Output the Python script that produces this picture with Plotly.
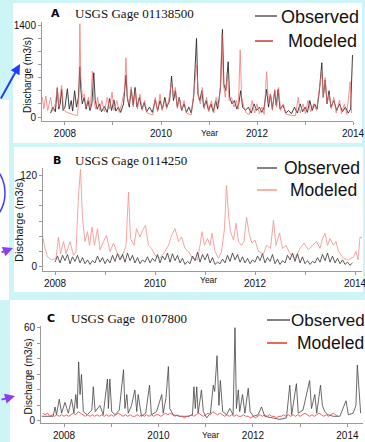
import plotly.graph_objects as go

W, H = 365, 442


def X(px):
    return px / W


def Y(py):
    return 1 - py / H


# ---------------- data (decimal year, discharge m3/s) ----------------
obs_A = [(2007.70, 60), (2007.75, 150), (2007.80, 80), (2007.84, 440), (2007.87, 120), (2007.90, 200),
         (2007.93, 420), (2007.96, 100), (2008.00, 150), (2008.05, 430), (2008.09, 120), (2008.13, 250),
         (2008.16, 90), (2008.20, 400), (2008.24, 150), (2008.28, 300), (2008.31, 765), (2008.33, 420),
         (2008.36, 200), (2008.40, 300), (2008.44, 120), (2008.48, 250), (2008.52, 100), (2008.56, 200),
         (2008.60, 674), (2008.63, 250), (2008.67, 120), (2008.72, 200), (2008.76, 80), (2008.82, 160),
         (2008.88, 70), (2008.93, 280), (2008.97, 100), (2009.02, 260), (2009.06, 90), (2009.11, 150),
         (2009.16, 70), (2009.22, 200), (2009.27, 638), (2009.30, 280), (2009.34, 150), (2009.38, 420),
         (2009.42, 180), (2009.46, 450), (2009.50, 150), (2009.55, 300), (2009.60, 120), (2009.65, 220),
         (2009.70, 80), (2009.76, 150), (2009.82, 70), (2009.88, 260), (2009.93, 100), (2009.98, 250),
         (2010.03, 120), (2010.08, 300), (2010.12, 150), (2010.18, 250), (2010.22, 623), (2010.26, 250),
         (2010.30, 400), (2010.34, 150), (2010.38, 300), (2010.43, 100), (2010.48, 200), (2010.53, 70),
         (2010.58, 150), (2010.63, 60), (2010.68, 300), (2010.74, 1196), (2010.77, 350), (2010.81, 250),
         (2010.85, 400), (2010.89, 150), (2010.94, 250), (2010.99, 100), (2011.04, 200), (2011.09, 80),
         (2011.14, 250), (2011.18, 120), (2011.24, 450), (2011.28, 1333), (2011.31, 500), (2011.35, 400),
         (2011.40, 841), (2011.43, 300), (2011.48, 200), (2011.53, 250), (2011.58, 120), (2011.62, 200),
         (2011.66, 400), (2011.70, 150), (2011.76, 100), (2011.82, 150), (2011.88, 60), (2011.94, 200),
         (2011.99, 100), (2012.05, 150), (2012.10, 70), (2012.15, 150), (2012.20, 420), (2012.24, 150),
         (2012.28, 350), (2012.32, 120), (2012.37, 400), (2012.40, 180), (2012.44, 420), (2012.48, 120),
         (2012.54, 180), (2012.60, 60), (2012.66, 100), (2012.72, 50), (2012.78, 150), (2012.84, 60),
         (2012.90, 200), (2012.95, 80), (2013.00, 150), (2013.05, 70), (2013.10, 250), (2013.15, 100),
         (2013.20, 200), (2013.25, 120), (2013.30, 400), (2013.35, 826), (2013.38, 300), (2013.42, 563),
         (2013.46, 200), (2013.50, 400), (2013.54, 150), (2013.60, 250), (2013.66, 100), (2013.72, 200),
         (2013.78, 80), (2013.84, 150), (2013.90, 60), (2013.95, 120), (2013.99, 943)]

mod_A = [(2007.53, 300), (2007.56, 120), (2007.60, 320), (2007.64, 100), (2007.70, 300), (2007.74, 90),
         (2007.80, 200), (2007.84, 460), (2007.87, 150), (2007.93, 480), (2007.97, 110), (2008.02, 80),
         (2008.08, 60), (2008.14, 40), (2008.20, 30), (2008.26, 25), (2008.29, 300), (2008.31, 1420),
         (2008.33, 600), (2008.36, 300), (2008.40, 350), (2008.44, 150), (2008.49, 300), (2008.53, 130),
         (2008.57, 700), (2008.60, 250), (2008.64, 120), (2008.68, 300), (2008.72, 100), (2008.77, 250),
         (2008.82, 80), (2008.88, 300), (2008.93, 120), (2008.98, 380), (2009.02, 100), (2009.08, 250),
         (2009.13, 70), (2009.18, 200), (2009.24, 400), (2009.27, 902), (2009.30, 300), (2009.34, 200),
         (2009.38, 460), (2009.42, 150), (2009.47, 400), (2009.51, 120), (2009.56, 350), (2009.61, 100),
         (2009.66, 250), (2009.71, 60), (2009.77, 40), (2009.83, 30), (2009.88, 300), (2009.93, 80),
         (2009.98, 350), (2010.02, 100), (2010.07, 250), (2010.12, 120), (2010.17, 300), (2010.22, 537),
         (2010.26, 300), (2010.30, 450), (2010.34, 130), (2010.38, 300), (2010.43, 90), (2010.48, 250),
         (2010.53, 60), (2010.58, 40), (2010.63, 30), (2010.68, 350), (2010.74, 791), (2010.78, 300),
         (2010.82, 200), (2010.86, 450), (2010.90, 120), (2010.95, 300), (2011.00, 80), (2011.05, 250),
         (2011.10, 60), (2011.15, 300), (2011.20, 150), (2011.24, 500), (2011.27, 1272), (2011.30, 500),
         (2011.34, 300), (2011.38, 664), (2011.42, 250), (2011.47, 300), (2011.52, 150), (2011.57, 250),
         (2011.61, 120), (2011.65, 1019), (2011.68, 300), (2011.73, 150), (2011.78, 60), (2011.84, 40),
         (2011.90, 250), (2011.95, 60), (2012.00, 200), (2012.05, 50), (2012.10, 150), (2012.15, 40),
         (2012.20, 689), (2012.24, 200), (2012.28, 350), (2012.32, 100), (2012.37, 420), (2012.41, 150),
         (2012.45, 450), (2012.49, 100), (2012.55, 200), (2012.60, 40), (2012.66, 30), (2012.72, 25),
         (2012.80, 20), (2012.86, 300), (2012.90, 60), (2012.96, 200), (2013.01, 50), (2013.06, 250),
         (2013.12, 80), (2013.18, 200), (2013.24, 100), (2013.30, 450), (2013.35, 715), (2013.38, 300),
         (2013.42, 600), (2013.46, 200), (2013.50, 350), (2013.55, 120), (2013.60, 300), (2013.65, 60),
         (2013.72, 258), (2013.76, 50), (2013.82, 200), (2013.87, 40), (2013.94, 537), (2013.97, 60)]

# Panel B observed: sampled every 0.05 yr starting 2008.00
obs_B_start = 2008.00
obs_B = [6, 14, 5, 15, 8, 16, 4, 13, 7, 15, 5, 12, 4, 9, 3, 8, 5, 14, 6, 12,
         4, 10, 5, 15, 7, 17, 9, 16, 6, 18, 8, 15, 5, 12, 4, 9, 6, 13, 5, 11,
         7, 16, 5, 14, 9, 18, 6, 17, 8, 15, 5, 11, 3, 7, 4, 14, 8, 19, 6, 16,
         9, 17, 5, 12, 3, 6, 4, 10, 5, 15, 7, 18, 9, 16, 6, 13, 5, 11, 4, 9,
         6, 14, 8, 17, 5, 12, 7, 16, 4, 10, 3, 8, 5, 15, 9, 18, 7, 17, 5, 13,
         4, 8, 3, 7, 5, 12, 6, 16, 8, 18, 6, 14, 5, 11, 4, 9, 3, 6, 2, 5]

mod_B = [(2007.75, 41), (2007.80, 24), (2007.85, 13), (2007.93, 9), (2008.02, 11), (2008.07, 39),
         (2008.11, 17), (2008.17, 33), (2008.22, 17), (2008.30, 33), (2008.37, 15), (2008.42, 20),
         (2008.47, 94), (2008.51, 128), (2008.55, 63), (2008.60, 33), (2008.65, 46), (2008.69, 28),
         (2008.74, 52), (2008.79, 28), (2008.85, 50), (2008.90, 22), (2008.97, 33), (2009.03, 41),
         (2009.10, 20), (2009.17, 31), (2009.25, 17), (2009.33, 11), (2009.42, 28), (2009.47, 98),
         (2009.51, 37), (2009.58, 28), (2009.63, 50), (2009.70, 39), (2009.75, 48), (2009.81, 54),
         (2009.87, 28), (2009.93, 24), (2010.00, 15), (2010.10, 11), (2010.20, 20), (2010.27, 28),
         (2010.33, 41), (2010.40, 50), (2010.47, 33), (2010.53, 39), (2010.60, 24), (2010.67, 20),
         (2010.75, 11), (2010.85, 9), (2010.90, 28), (2010.94, 46), (2010.99, 28), (2011.05, 37),
         (2011.10, 28), (2011.14, 44), (2011.20, 20), (2011.27, 11), (2011.33, 20), (2011.39, 50),
         (2011.43, 107), (2011.47, 68), (2011.51, 46), (2011.57, 35), (2011.62, 57), (2011.67, 33),
         (2011.73, 28), (2011.78, 33), (2011.83, 65), (2011.89, 41), (2011.94, 31), (2012.00, 35),
         (2012.07, 20), (2012.17, 17), (2012.23, 28), (2012.31, 24), (2012.37, 61), (2012.42, 28),
         (2012.49, 44), (2012.55, 24), (2012.62, 28), (2012.70, 17), (2012.80, 11), (2012.90, 24),
         (2012.98, 31), (2013.07, 22), (2013.15, 28), (2013.23, 33), (2013.30, 24), (2013.35, 37),
         (2013.40, 44), (2013.45, 28), (2013.50, 37), (2013.57, 28), (2013.62, 33), (2013.67, 20),
         (2013.77, 11), (2013.87, 9), (2013.97, 13), (2014.02, 20), (2014.06, 9), (2014.10, 39),
         (2014.14, 38)]

obs_C = [(2007.53, 3), (2007.67, 3), (2007.77, 3), (2007.81, 9), (2007.84, 4), (2007.90, 14),
         (2007.95, 5), (2008.02, 12), (2008.09, 5), (2008.16, 14), (2008.21, 5), (2008.25, 17),
         (2008.28, 8), (2008.31, 38), (2008.34, 17), (2008.37, 30), (2008.41, 6), (2008.49, 4),
         (2008.59, 7), (2008.62, 22), (2008.66, 6), (2008.76, 10), (2008.83, 4), (2008.92, 27),
         (2008.94, 8), (2008.97, 27), (2009.01, 6), (2009.08, 4), (2009.17, 7), (2009.26, 33),
         (2009.29, 8), (2009.33, 17), (2009.36, 5), (2009.43, 10), (2009.50, 20), (2009.54, 6),
         (2009.57, 17), (2009.64, 3), (2009.73, 5), (2009.81, 23), (2009.85, 4), (2009.96, 6),
         (2010.07, 17), (2010.10, 5), (2010.16, 15), (2010.21, 35), (2010.24, 8), (2010.31, 4),
         (2010.45, 3), (2010.63, 3), (2010.72, 4), (2010.75, 22), (2010.78, 8), (2010.81, 22),
         (2010.84, 5), (2010.91, 20), (2010.95, 6), (2011.02, 2), (2011.10, 5), (2011.16, 23),
         (2011.19, 19), (2011.24, 42), (2011.28, 10), (2011.31, 26), (2011.36, 6), (2011.44, 4),
         (2011.51, 8), (2011.58, 4), (2011.62, 60), (2011.65, 8), (2011.69, 20), (2011.72, 6),
         (2011.78, 17), (2011.83, 5), (2011.90, 21), (2011.94, 6), (2012.01, 3), (2012.11, 4),
         (2012.18, 9), (2012.25, 3), (2012.39, 2), (2012.57, 1), (2012.71, 2), (2012.78, 23),
         (2012.82, 4), (2012.92, 24), (2012.96, 5), (2013.06, 7), (2013.20, 26), (2013.24, 8),
         (2013.31, 17), (2013.35, 5), (2013.43, 23), (2013.47, 10), (2013.52, 6), (2013.59, 4),
         (2013.70, 3), (2013.84, 3), (2013.97, 13), (2014.02, 4), (2014.12, 5), (2014.18, 10),
         (2014.21, 36), (2014.24, 25), (2014.28, 5)]

# Panel C modeled: sampled every 0.05 yr starting 2007.55
mod_C_start = 2007.55
mod_C = [5, 4, 5, 3, 4, 3, 4, 3, 4,
         3, 4, 3, 4, 5, 4, 6, 5, 4, 3, 4, 3, 4, 3, 4, 3, 4, 3, 4, 3,
         4, 3, 4, 5, 4, 3, 4, 3, 4, 3, 3, 4, 3, 4, 3, 4, 3, 4, 3, 4,
         4, 3, 4, 5, 4, 5, 4, 3, 4, 3, 3, 2, 3, 3, 4, 3, 4, 5, 4, 3,
         4, 5, 4, 6, 5, 4, 5, 4, 3, 4, 3, 4, 3, 4, 3, 3, 4, 3, 3, 2,
         3, 2, 3, 4, 3, 4, 3, 4, 3, 3, 2, 3, 3, 4, 3, 4, 3, 4, 3, 4,
         3, 4, 5, 4, 3, 4, 3, 4, 5, 4, 3, 4, 3, 4, 5, 4, 3]

years = [2008, 2009, 2010, 2011, 2012, 2013, 2014]
year_labels = ["2008", "", "2010", "", "2012", "", "2014"]
titles = ["USGS Gage 01138500", "USGS Gage 0114250", "USGS Gage\u00a0\u00a00107800"]
panel_letters = ["A", "B", "C"]
ylab = "Discharge (m3/s)"


def xs(pairs):
    return [p[0] for p in pairs]


def vs(pairs):
    return [p[1] for p in pairs]


obs_B_x = [round(obs_B_start + 0.05 * i, 2) for i in range(len(obs_B))]
mod_C_x = [round(mod_C_start + 0.05 * i, 2) for i in range(len(mod_C))]

fig = go.Figure()
# Panel A
fig.add_trace(go.Scatter(x=xs(obs_A), y=vs(obs_A), mode="lines", line=dict(color="#2a2a2a", width=0.9),
                         xaxis="x", yaxis="y"))
fig.add_trace(go.Scatter(x=xs(mod_A), y=vs(mod_A), mode="lines", line=dict(color="#f06a6a", width=0.9),
                         opacity=0.8, xaxis="x", yaxis="y"))
# Panel B
fig.add_trace(go.Scatter(x=xs(mod_B), y=vs(mod_B), mode="lines", line=dict(color="#f59a9a", width=0.9),
                         xaxis="x2", yaxis="y2"))
fig.add_trace(go.Scatter(x=obs_B_x, y=obs_B, mode="lines", line=dict(color="#333333", width=0.8),
                         xaxis="x2", yaxis="y2"))
# Panel C
fig.add_trace(go.Scatter(x=xs(obs_C), y=vs(obs_C), mode="lines", line=dict(color="#444444", width=0.8),
                         xaxis="x3", yaxis="y3"))
fig.add_trace(go.Scatter(x=mod_C_x, y=mod_C, mode="lines", line=dict(color="#f05050", width=0.9),
                         xaxis="x3", yaxis="y3"))

TF = "Liberation Sans, Arial, sans-serif"
axis_common = dict(showgrid=False, zeroline=False, showline=True, linecolor="#9a9a9a", linewidth=1,
                   automargin=False, ticks="outside", ticklen=3, tickcolor="#9a9a9a",
                   ticklabeloverflow="allow",
                   tickfont=dict(family=TF, size=10, color="#111"))

fig.update_layout(
    template="none",
    width=W, height=H, margin=dict(l=0, r=0, t=0, b=0, pad=0), autosize=False,
    paper_bgcolor="#cdf4f7", plot_bgcolor="rgba(0,0,0,0)",
    showlegend=False, hovermode=False,
    xaxis=dict(domain=[X(42), X(353)], range=[2007.521, 2014.0], anchor="y",
               tickvals=years, ticktext=year_labels, **axis_common),
    yaxis=dict(domain=[Y(121), Y(22)], range=[-60.9, 1445.7], anchor="x",
               tickvals=[0, 200, 400, 600, 800, 1000, 1200, 1400],
               ticktext=["0", "", "", "", "", "", "", "1400"], **axis_common),
    xaxis2=dict(domain=[X(43), X(362)], range=[2007.76, 2014.14], anchor="y2",
                tickvals=years, ticktext=year_labels, **axis_common),
    yaxis2=dict(domain=[Y(271), Y(168)], range=[-5.6, 129.6], anchor="x2",
                tickvals=[0, 20, 40, 60, 80, 100, 120],
                ticktext=["0", "", "", "", "", "", "120"], **axis_common),
    xaxis3=dict(domain=[X(41), X(363)], range=[2007.513, 2014.33], anchor="y3",
                tickvals=years, ticktext=year_labels, **axis_common),
    yaxis3=dict(domain=[Y(423.3), Y(326)], range=[-1.5, 61.1], anchor="x3",
                tickvals=[0, 10, 20, 30, 40, 50, 60],
                ticktext=["0", "", "", "", "", "", "60"], **axis_common),
)

shapes = []


def rect(x0, y0, x1, y1, color):
    shapes.append(dict(type="rect", xref="paper", yref="paper", x0=X(x0), x1=X(x1), y0=Y(y1), y1=Y(y0),
                       fillcolor=color, line=dict(width=0), layer="below"))


def seg(x0, x1, py, color, width=1.2):
    shapes.append(dict(type="line", xref="paper", yref="paper", x0=X(x0), x1=X(x1), y0=Y(py), y1=Y(py),
                       line=dict(color=color, width=width)))


# white panels
rect(13, 3, 362, 143, "white")
rect(14, 147, 363, 292, "white")
rect(10, 300, 365, 442, "white")
rect(0, 100, 9, 300, "white")

# legend lines
seg(255, 277, 16, "#333333")
seg(255, 273, 41, "#c00000")
seg(257, 277, 168, "#333333")
seg(257, 277, 190, "#f08070")
seg(267, 290, 320, "#333333")
seg(267, 287, 343, "#e00000")

# blue circle arc at left
shapes.append(dict(type="circle", xref="paper", yref="paper", x0=X(-69), x1=X(5), y0=Y(230), y1=Y(156),
                   line=dict(color="#3a3aff", width=1.5)))

annotations = []


def text(s, px, py, size, family=TF, color="#111", xanchor="left", angle=0):
    annotations.append(dict(text=s, x=X(px), y=Y(py), xref="paper", yref="paper", showarrow=False,
                            xanchor=xanchor, yanchor="middle", textangle=angle,
                            font=dict(family=family, size=size, color=color)))


SERIF = "Liberation Serif, Times New Roman, serif"
BOLD = "DejaVu Sans, sans-serif"
# panel titles
text("<b>" + panel_letters[0] + "</b>", 49, 13, 11, BOLD, "#000")
text(titles[0], 73, 13.5, 13, SERIF, "#111")
text("<b>" + panel_letters[1] + "</b>", 51, 160, 11, BOLD, "#000")
text(titles[1], 73, 160.5, 13, SERIF, "#111")
text("<b>" + panel_letters[2] + "</b>", 45, 318, 11, BOLD, "#000")
text(titles[2], 69, 318.5, 13, SERIF, "#111")

# legends
text("Observed", 279, 17, 18)
text("Modeled", 286, 41, 18)
text("Observed", 282, 168, 17.5)
text("Modeled", 288, 190, 17.5)
text("Observed", 289, 320, 17)
text("Modeled", 295, 343, 17.5)

# y-axis titles
text(ylab, 27, 75, 10, xanchor="center", angle=-90)
text(ylab, 19, 220, 11, xanchor="center", angle=-90)
text(ylab, 27.5, 377, 10, xanchor="center", angle=-90)

# x-axis titles
text("Year", 209, 133, 8.5, xanchor="center")
text("Year", 208, 280, 8.5, xanchor="center")
text("Year", 211, 435, 8.5, xanchor="center")


# arrows
def arrow(hx, hy, ax, ay, color):
    annotations.append(dict(text="", x=X(hx), y=Y(hy), xref="paper", yref="paper", showarrow=True,
                            ax=ax, ay=ay, axref="pixel", ayref="pixel", arrowhead=2, arrowsize=1,
                            arrowwidth=2, arrowcolor=color, standoff=0))


arrow(20, 64, -22, 36, "#1f3cff")
arrow(13, 248, -15, 5, "#8a3ef0")
arrow(15, 396, -17, 4, "#8a3ef0")

fig.update_layout(shapes=shapes, annotations=annotations)
fig.write_html("out.html", config={"displayModeBar": False},
               post_script="document.body.style.margin='0';document.body.style.overflow='hidden';")
